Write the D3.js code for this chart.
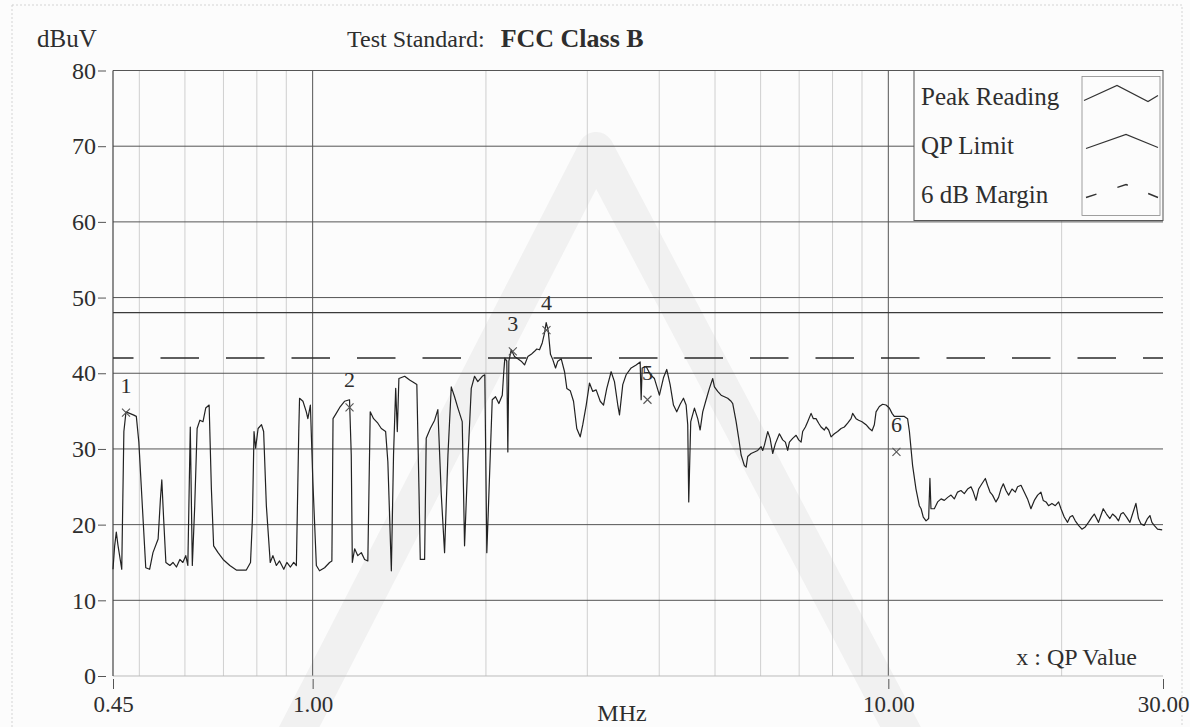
<!DOCTYPE html>
<html>
<head>
<meta charset="utf-8">
<script src="https://cdn.jsdelivr.net/npm/d3@7"></script>
<style>
  body { margin: 0; background: #fff; }
  svg text { font-family: "Liberation Serif", "Times New Roman", serif; fill: #2e2e2e; }
</style>
</head>
<body>
<div id="chart"></div>
<script>
// peak reading trace, MHz / dBuV
const peakFreq = [0.450,0.453,0.456,0.459,0.466,0.470,0.474,0.481,0.488,0.494,0.499,0.506,0.513,0.521,0.528,0.539,0.544,0.547,0.551,0.556,
  0.565,0.572,0.580,0.588,0.595,0.602,0.607,0.613,0.618,0.624,0.630,0.637,0.645,0.652,0.661,0.667,0.673,0.685,0.699,0.718,
  0.737,0.767,0.780,0.786,0.791,0.796,0.804,0.815,0.822,0.831,0.844,0.853,0.865,0.876,0.891,0.902,0.915,0.927,0.937,0.946,
  0.949,0.962,0.975,0.981,0.991,1.001,1.015,1.028,1.049,1.070,1.080,1.085,1.099,1.117,1.136,1.159,1.167,1.172,1.183,1.198,
  1.215,1.231,1.247,1.259,1.276,1.298,1.316,1.339,1.351,1.370,1.382,1.394,1.403,1.412,1.445,1.474,1.503,1.517,1.530,1.538,
  1.565,1.575,1.601,1.629,1.650,1.673,1.695,1.718,1.741,1.764,1.788,1.819,1.836,1.860,1.886,1.911,1.936,1.971,1.991,2.007,
  2.035,2.051,2.078,2.106,2.135,2.148,2.157,2.174,2.183,2.192,2.213,2.242,2.272,2.303,2.334,2.365,2.397,2.429,2.451,2.478,
  2.505,2.528,2.545,2.566,2.589,2.613,2.642,2.666,2.703,2.739,2.764,2.802,2.839,2.876,2.916,2.946,2.987,3.026,3.066,3.108,
  3.159,3.201,3.243,3.300,3.344,3.389,3.412,3.457,3.504,3.575,3.647,3.706,3.721,3.736,3.796,3.862,3.924,4.003,4.068,4.122,
  4.178,4.234,4.290,4.349,4.407,4.454,4.483,4.501,4.537,4.605,4.666,4.711,4.760,4.825,4.889,4.954,4.988,5.054,5.123,5.191,
  5.260,5.332,5.367,5.440,5.497,5.550,5.623,5.662,5.698,5.776,5.853,5.931,6.012,6.050,6.092,6.173,6.232,6.297,6.365,6.468,
  6.554,6.625,6.686,6.732,6.821,6.915,6.987,7.055,7.099,7.177,7.243,7.342,7.409,7.489,7.568,7.641,7.742,7.795,7.877,7.953,
  8.058,8.165,8.277,8.387,8.498,8.615,8.670,8.789,8.880,9.001,9.147,9.269,9.370,9.456,9.521,9.647,9.775,9.908,10.04,10.15,
  10.24,10.45,10.66,10.80,10.88,11.02,11.17,11.32,11.40,11.50,11.63,11.75,11.81,11.86,12.02,12.18,12.35,12.51,12.68,12.85,
  13.02,13.19,13.37,13.55,13.73,13.92,14.05,14.20,14.35,14.54,14.74,14.87,15.02,15.17,15.38,15.54,15.69,15.84,16.01,16.18,
  16.40,16.62,16.77,17.00,17.22,17.45,17.69,17.93,18.17,18.41,18.58,18.79,18.98,19.24,19.50,19.76,19.95,20.21,20.48,20.68,
  20.89,21.12,21.40,21.69,21.98,22.27,22.58,22.79,23.00,23.18,23.40,23.62,23.93,24.26,24.52,24.85,25.11,25.35,25.59,25.93,
  26.28,26.56,26.92,27.20,27.46,27.83,28.20,28.47,28.70,28.96,29.35,29.90];
const peakLevel = [14.1,17.2,19.0,17.3,14.1,32.3,34.9,34.7,34.5,34.3,30.9,22.5,14.3,14.1,16.3,18.1,23.4,25.9,20.8,15.0,
  14.6,15.0,14.4,15.4,15.0,15.9,14.6,32.9,14.6,22.5,32.7,33.8,33.6,35.4,35.8,24.7,17.2,16.3,15.4,14.6,
  14.0,14.0,15.0,20.8,32.3,30.1,32.7,33.2,32.3,22.5,15.0,15.9,14.6,15.2,14.1,15.0,14.4,15.0,14.6,32.3,
  36.7,36.3,34.9,34.0,35.8,25.6,14.6,13.9,14.3,15.0,15.2,34.0,34.7,35.6,36.3,36.5,29.2,15.0,16.8,15.9,
  16.3,15.4,15.2,34.9,34.0,33.4,32.7,32.3,28.3,13.9,29.2,38.0,32.3,39.3,39.6,39.1,38.7,38.5,24.7,15.4,
  15.4,31.4,32.7,33.8,35.2,23.9,16.3,29.2,38.2,36.9,35.4,33.6,17.2,28.3,38.0,39.6,38.9,39.6,39.8,16.3,
  29.2,36.5,36.9,36.0,37.1,40.2,42.0,41.6,29.6,41.6,43.1,42.2,41.9,41.6,41.1,42.2,42.5,42.9,43.2,43.1,
  44.0,45.3,46.7,45.6,42.5,41.8,40.7,41.6,41.9,40.2,38.0,37.7,36.3,32.7,31.6,33.2,35.8,38.7,37.6,37.8,
  36.3,35.8,38.0,40.2,38.9,35.8,34.5,38.5,39.8,40.7,41.1,41.5,36.5,40.7,40.9,39.8,39.3,37.1,39.4,40.5,
  38.5,35.8,34.9,35.9,36.7,35.8,33.2,23.0,33.6,35.4,34.0,32.5,34.9,36.5,38.0,39.3,38.2,37.6,37.1,36.9,
  36.7,36.3,36.0,33.6,31.4,29.2,27.8,27.6,29.0,29.4,29.6,29.8,30.3,29.8,30.5,32.3,31.4,29.4,30.7,32.0,
  31.2,30.9,29.8,30.9,31.4,31.8,31.2,30.9,32.3,32.9,33.6,34.7,34.0,34.0,33.4,32.9,32.5,32.9,32.5,31.6,
  32.0,32.3,32.7,32.9,33.4,34.0,34.7,34.0,33.8,33.6,33.2,32.7,32.4,33.2,34.9,35.6,35.9,35.8,35.4,34.7,
  34.3,34.3,34.3,34.0,32.3,27.8,24.7,22.5,22.1,21.0,20.5,20.8,26.1,22.1,22.1,23.0,23.4,23.2,23.6,23.9,
  23.4,24.3,24.5,24.1,24.7,25.0,24.3,23.2,24.7,25.4,26.1,25.2,24.3,23.9,23.0,23.6,24.7,25.4,24.5,23.9,
  24.7,24.3,25.0,25.2,24.3,23.4,22.1,23.2,23.9,24.3,23.2,23.0,22.5,22.8,22.5,23.0,22.1,21.0,20.3,21.0,
  21.2,20.5,19.9,19.4,19.7,20.3,21.0,21.4,20.8,20.3,21.2,22.1,21.4,20.8,21.4,21.0,20.5,21.4,21.6,21.0,
  20.3,21.4,22.8,20.8,20.1,19.9,20.8,21.2,20.3,19.9,19.4,19.3];

// QP readings (x marks)
const markerFreq = [0.474, 1.159, 2.227, 2.548, 3.816, 10.33];
const markerLevel = [34.8, 35.5, 42.9, 45.7, 36.5, 29.6];
const markerLabel = ["1", "2", "3", "4", "5", "6"];

// limits
const limitFreq = [0.45, 30];
const qpLimit = [48, 48];
const marginLimit = [42, 42];

const yTicks = [0, 10, 20, 30, 40, 50, 60, 70, 80];
const xTickValues = [0.45, 1, 10, 30];
const xTickLabels = ["0.45", "1.00", "10.00", "30.00"];
const majorFreq = [1, 10];
const minorFreq = [0.5, 0.6, 0.7, 0.8, 0.9, 2, 3, 4, 5, 6, 7, 8, 9, 20];
const legendNames = ["Peak Reading", "QP Limit", "6 dB Margin"];

const W = 1190, H = 727;
const margin = { top: 70.5, right: 27, bottom: 51, left: 113 };
const width = W - margin.left - margin.right,
    height = H - margin.top - margin.bottom;

const svg = d3.select("#chart").append("svg")
    .attr("width", W)
    .attr("height", H);

svg.append("rect").attr("width", W).attr("height", H).attr("fill", "#fcfcfc");

// faint logo watermark of the scan
svg.append("path")
    .attr("d", "M596,150 L290,745 L910,745 Z")
    .attr("fill", "none")
    .attr("stroke", "#f1f1f1")
    .attr("stroke-width", 36)
    .attr("stroke-linejoin", "round");

svg.append("rect")
    .attr("x", 12).attr("y", 5)
    .attr("width", W - 20).attr("height", H - 4)
    .attr("fill", "none")
    .attr("stroke", "#d4d4d4")
    .attr("stroke-dasharray", "2,2");

const g = svg.append("g")
    .attr("transform", `translate(${margin.left},${margin.top})`);

const x = d3.scaleLog().domain([0.45, 30]).range([0, width]);
const y = d3.scaleLinear().domain([0, 80]).range([height, 0]);

// grid
g.selectAll(".minor").data(minorFreq).enter().append("line")
    .attr("x1", d => x(d)).attr("x2", d => x(d))
    .attr("y1", 0).attr("y2", height)
    .attr("stroke", "#c4c4c4").attr("stroke-width", 0.8);

g.selectAll(".major").data(majorFreq).enter().append("line")
    .attr("x1", d => x(d)).attr("x2", d => x(d))
    .attr("y1", 0).attr("y2", height)
    .attr("stroke", "#555").attr("stroke-width", 1);

g.selectAll(".hgrid").data(yTicks).enter().append("line")
    .attr("x1", 0).attr("x2", width)
    .attr("y1", d => y(d)).attr("y2", d => y(d))
    .attr("stroke", d => d === 0 ? "#bbb" : "#555")
    .attr("stroke-width", 1);

g.append("line")
    .attr("x1", 0).attr("x2", 0).attr("y1", 0).attr("y2", height)
    .attr("stroke", "#444").attr("stroke-width", 1.2);

// axes
const yAxis = g.append("g")
    .attr("transform", "translate(-7,0)")
    .call(d3.axisLeft(y).tickValues(yTicks).tickSize(8).tickPadding(2));
yAxis.select(".domain").remove();
yAxis.selectAll("line").attr("stroke", "#555");
yAxis.selectAll("text").attr("font-size", 24).attr("fill", "#2e2e2e");

const xAxis = g.append("g")
    .attr("transform", `translate(0,${height + 3})`)
    .call(d3.axisBottom(x).tickValues(xTickValues).tickFormat((d, i) => xTickLabels[i]).tickSize(10).tickPadding(7));
xAxis.select(".domain").remove();
xAxis.selectAll("line").attr("stroke", "#555");
xAxis.selectAll("text").attr("font-size", 23).attr("fill", "#2e2e2e");

// limit lines
const limitLine = d3.line().x(d => x(d[0])).y(d => y(d[1]));
g.append("path")
    .attr("d", limitLine(d3.zip(limitFreq, qpLimit)))
    .attr("fill", "none").attr("stroke", "#3a3a3a").attr("stroke-width", 1.3);
g.append("path")
    .attr("d", limitLine(d3.zip(limitFreq, marginLimit)))
    .attr("fill", "none").attr("stroke", "#2a2a2a").attr("stroke-width", 1.5)
    .attr("stroke-dasharray", "38.5,27").attr("stroke-dashoffset", 18);

// peak trace
g.append("path")
    .attr("d", d3.line().x(d => x(d[0])).y(d => y(d[1]))(d3.zip(peakFreq, peakLevel)))
    .attr("fill", "none")
    .attr("stroke", "#222")
    .attr("stroke-width", 1.2)
    .attr("stroke-linejoin", "round");

// QP marks
const marks = g.selectAll(".mark").data(d3.zip(markerFreq, markerLevel, markerLabel))
    .enter().append("g")
    .attr("transform", d => `translate(${x(d[0])},${y(d[1])})`);
marks.append("path")
    .attr("d", "M-4,-4L4,4M-4,4L4,-4")
    .attr("stroke", "#555").attr("stroke-width", 1.1);
marks.append("text")
    .attr("y", -20)
    .attr("text-anchor", "middle")
    .attr("font-size", 22)
    .attr("fill", "#505050")
    .text(d => d[2]);

// labels
svg.append("text").attr("x", 37).attr("y", 47).attr("font-size", 25).text("dBuV");
const title = svg.append("text").attr("x", 347).attr("y", 47).attr("font-size", 24);
title.append("tspan").text("Test Standard:");
title.append("tspan").attr("dx", 16).attr("font-weight", "bold").attr("font-size", 26).text("FCC Class B");
svg.append("text").attr("x", 622).attr("y", 721).attr("text-anchor", "middle").attr("font-size", 24).text("MHz");
svg.append("text").attr("x", margin.left + width - 26).attr("y", margin.top + y(0) - 11)
    .attr("text-anchor", "end").attr("font-size", 24).text("x : QP Value");

// legend
const lg = g.append("g").attr("transform", `translate(${x(30) - 249},0)`);
lg.append("rect").attr("width", 249).attr("height", 150)
    .attr("fill", "#fcfcfc").attr("stroke", "#555").attr("stroke-width", 1);
lg.append("rect").attr("x", 168).attr("y", 6).attr("width", 78).attr("height", 139)
    .attr("fill", "none").attr("stroke", "#888").attr("stroke-width", 0.8);
lg.selectAll(".lt").data(legendNames).enter().append("text")
    .attr("x", 7).attr("y", (d, i) => 34 + i * 49)
    .attr("font-size", 25)
    .text(d => d);
const sample = d3.line();
lg.append("path").attr("d", sample([[170, 30], [203, 15], [234, 31], [244, 25]]))
    .attr("fill", "none").attr("stroke", "#333").attr("stroke-width", 1.2);
lg.append("path").attr("d", sample([[172, 78], [212, 64], [244, 77]]))
    .attr("fill", "none").attr("stroke", "#333").attr("stroke-width", 1.2);
lg.append("path").attr("d", sample([[172, 127], [212, 114], [244, 127]]))
    .attr("fill", "none").attr("stroke", "#333").attr("stroke-width", 1.4)
    .attr("stroke-dasharray", "11,22");
</script>
</body>
</html>
